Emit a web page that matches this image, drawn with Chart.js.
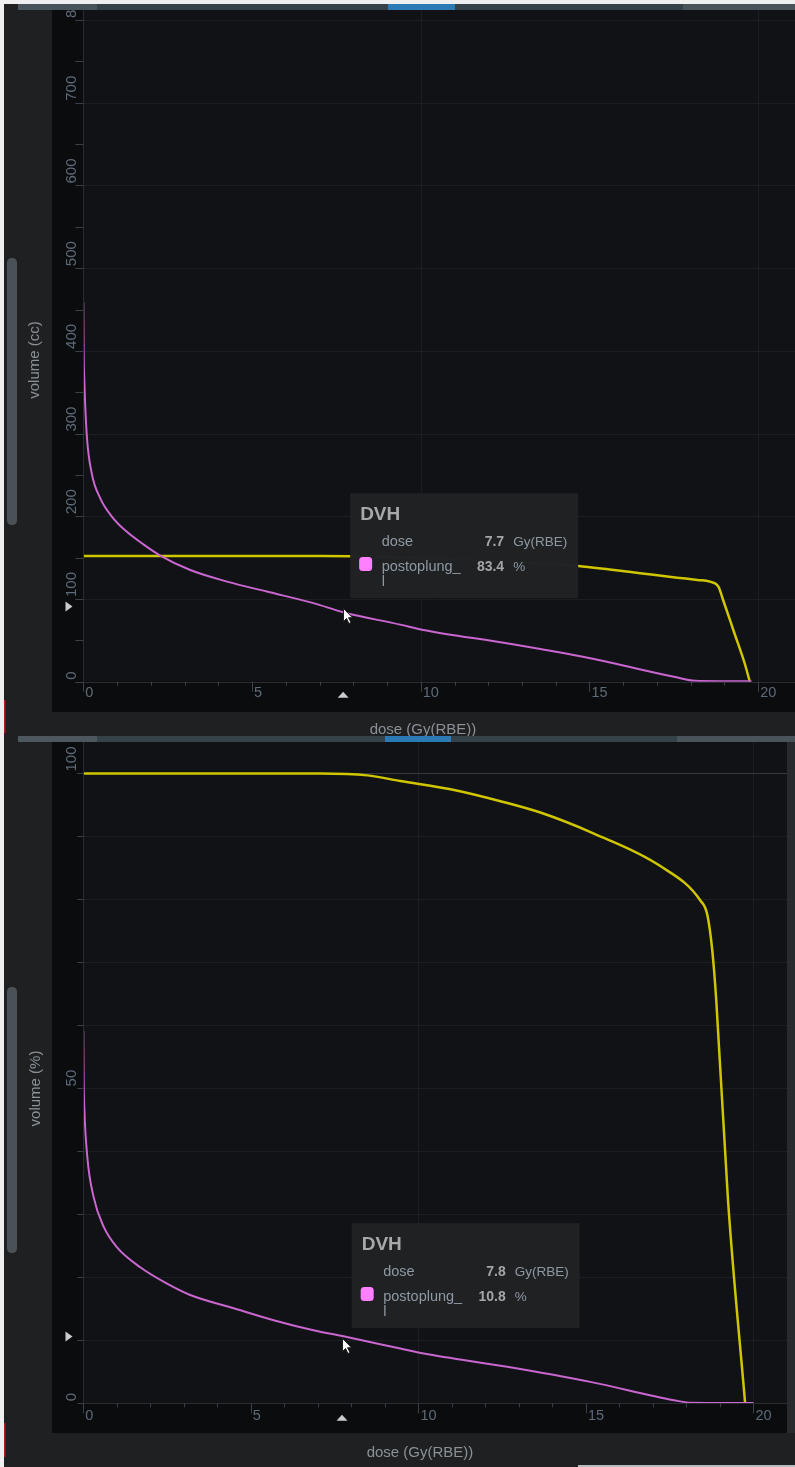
<!DOCTYPE html>
<html><head><meta charset="utf-8">
<script src="https://cdn.jsdelivr.net/npm/chart.js@4.4.0/dist/chart.umd.min.js"></script>
<style>
html,body{margin:0;padding:0;background:#efefef;}
body{width:795px;height:1467px;position:relative;overflow:hidden;}
.wrap{position:absolute;left:0;width:795px;}
#w1{top:0;height:736px;}
#w2{top:736px;height:731px;}
canvas{display:block;}
</style></head><body>
<div class="wrap" id="w1"><canvas id="c1"></canvas></div>
<div class="wrap" id="w2"><canvas id="c2"></canvas></div>
<script>
// ---------- data ----------
// top chart: volume in cc
const ccYellowDose = [0, 2, 4, 6, 7.07, 7.9, 8.5, 9.5, 11, 12.5, 13.6, 14.67, 15.6, 16.5, 17.6, 18.2, 18.57, 18.82, 18.96, 19.3, 19.6, 19.75];
const ccYellowVol  = [152, 152, 152, 152, 152, 151.8, 151.4, 150.2, 148, 145.3, 142.9, 139.9, 135.6, 131.2, 125.8, 123, 121, 114.9, 98.8, 58, 22, 0];
const ccPinkDose = [0, 0.01, 0.03, 0.1, 0.25, 0.5, 0.84, 1.24, 1.78, 2.28, 3.17, 4.26, 5.44, 6.82, 7.7, 9.39, 10.08, 12.55, 15.02, 17.5, 18.13, 19.0, 19.8];
const ccPinkVol  = [459, 400, 365, 300, 252, 222, 200, 183, 166, 152.5, 135, 121, 109, 95, 84, 69, 62.5, 46.4, 28.3, 6.0, 1.0, 0.6, 0.5];
// bottom chart: volume in %
const pctYellowDose = [0, 3, 6, 7.07, 8.48, 9.46, 10.96, 12.45, 13.64, 15.22, 17.22, 18.42, 18.62, 18.77, 18.89, 19.24, 19.75];
const pctYellowVol  = [100, 100, 100, 100, 99.7, 98.8, 97.5, 95.6, 93.8, 90.5, 85.3, 79.8, 77.6, 71.9, 63.9, 32.2, 0];
const pctPinkDose = [0, 0.01, 0.03, 0.12, 0.31, 0.61, 1.0, 1.7, 2.5, 3.19, 4.49, 5.68, 6.87, 7.8, 9.46, 10.16, 12.65, 15.13, 17.62, 18.12, 20.0];
const pctPinkVol  = [59.2, 51.5, 47, 39.1, 32.7, 28.0, 24.8, 21.6, 19.0, 17.2, 15.1, 13.2, 11.6, 10.6, 8.7, 7.9, 5.8, 3.4, 0.5, 0.1, 0.05];

// axis ticks / labels
const xTickValues = [0,1,2,3,4,5,6,7,8,9,10,11,12,13,14,15,16,17,18,19,20];
const xLabelValues = [0, 5, 10, 15, 20];
const xGridValues = [10, 20];
const ccYTickValues = [0,50,100,150,200,250,300,350,400,450,500,550,600,650,700,750,800];
const ccYLabelValues = [0,100,200,300,400,500,600,700,800];
const ccYGridValues = [100,200,300,400,500,600,700,800];
const pctYTickValues = [0,10,20,30,40,50,60,70,80,90,100];
const pctYLabelValues = [0, 50, 100];
const pctYGridValues = [10,20,30,40,50,60,70,80,90];

// tooltip texts
const tipTitle = 'DVH';
const tipDoseLabel = 'dose';
const tipDoseUnit = 'Gy(RBE)';
const tipSeriesName = ['postoplung_', 'l'];
const ccTipDose = '7.7', ccTipValue = '83.4', ccTipUnit = '%';
const pctTipDose = '7.8', pctTipValue = '10.8', pctTipUnit = '%';
const ccHover = {dose: 7.7, cursorDose: 7.7, cursorVol: 89};
const pctHover = {dose: 7.8, cursorDose: 7.72, cursorVol: 10.35};

// ---------- drawing helpers ----------
const FONT = '"Liberation Sans", Arial, Helvetica, sans-serif';
function pts(xs, ys){ return xs.map((x,i)=>({x:x, y:ys[i]})); }
function rr(ctx,x,y,w,h,r){ ctx.beginPath(); ctx.moveTo(x+r,y); ctx.lineTo(x+w-r,y); ctx.quadraticCurveTo(x+w,y,x+w,y+r); ctx.lineTo(x+w,y+h-r); ctx.quadraticCurveTo(x+w,y+h,x+w-r,y+h); ctx.lineTo(x+r,y+h); ctx.quadraticCurveTo(x,y+h,x,y+h-r); ctx.lineTo(x,y+r); ctx.quadraticCurveTo(x,y,x+r,y); ctx.closePath(); }

const panelPlugin = {
  id: 'panel',
  beforeDraw(chart, args, o) {
    const ctx = chart.ctx, W = chart.width, H = chart.height, ca = chart.chartArea;
    ctx.save();
    ctx.fillStyle = '#efefef'; ctx.fillRect(0,0,W,H);
    ctx.fillStyle = '#1e2022'; ctx.fillRect(4, o.panelTop, W-4, H-o.panelTop);
    o.strip.forEach(s => { ctx.fillStyle = s[2]; ctx.fillRect(s[0], o.stripY, s[1]-s[0], o.stripH); });
    ctx.fillStyle = '#0b0c0e'; ctx.fillRect(52, o.blackTop, o.blackRight-52, o.blackBottom-o.blackTop);
    if (o.blackRight < W) { ctx.fillStyle = '#282b2e'; ctx.fillRect(o.blackRight, o.blackTop, W-o.blackRight, o.blackBottom-o.blackTop); }
    ctx.fillStyle = '#111216'; ctx.fillRect(ca.left, ca.top, ca.right-ca.left, ca.bottom-ca.top);
    ctx.fillStyle = '#4a5258'; rr(ctx, 7, o.thumb[0], 10, o.thumb[1]-o.thumb[0], 5); ctx.fill();
    ctx.fillStyle = '#a8201e'; ctx.fillRect(4, o.red[0], 1.5, o.red[1]-o.red[0]);
    if (o.bottomLine) { ctx.fillStyle = '#b8bcbf'; ctx.fillRect(o.bottomLine[0], H-2, W-o.bottomLine[0], 2); }
    ctx.restore();
  },
  beforeDatasetsDraw(chart, args, o) {
    const ctx = chart.ctx, ca = chart.chartArea, xs = chart.scales.x, ys = chart.scales.y;
    ctx.save();
    ctx.beginPath(); ctx.rect(ca.left, ca.top, ca.right-ca.left, ca.bottom-ca.top); ctx.clip();
    ctx.lineWidth = 1; ctx.strokeStyle = '#1d1e23';
    o.yGrid.forEach(v => { const y = Math.round(ys.getPixelForValue(v))+0.5; ctx.beginPath(); ctx.moveTo(ca.left,y); ctx.lineTo(ca.right,y); ctx.stroke(); });
    o.xGrid.forEach(v => { const x = Math.round(xs.getPixelForValue(v))+0.5; ctx.beginPath(); ctx.moveTo(x,ca.top); ctx.lineTo(x,ca.bottom); ctx.stroke(); });
    if (o.refLine !== undefined) { ctx.strokeStyle = '#38393e'; const y = Math.round(ys.getPixelForValue(o.refLine))+0.5; ctx.beginPath(); ctx.moveTo(ca.left,y); ctx.lineTo(ca.right,y); ctx.stroke(); }
    ctx.restore();
  },
  afterDraw(chart, args, o) {
    const ctx = chart.ctx, ca = chart.chartArea, xs = chart.scales.x, ys = chart.scales.y;
    ctx.save();
    // axis lines
    ctx.lineWidth = 1; ctx.strokeStyle = '#2a2c31';
    ctx.beginPath(); ctx.moveTo(Math.round(ca.left)+0.5, ca.top); ctx.lineTo(Math.round(ca.left)+0.5, ca.bottom); ctx.stroke();
    ctx.beginPath(); ctx.moveTo(ca.left, Math.round(ca.bottom)+0.5); ctx.lineTo(ca.right, Math.round(ca.bottom)+0.5); ctx.stroke();
    // tick marks
    ctx.strokeStyle = '#3b4047';
    o.yTicks.forEach(v => { const y = Math.round(ys.getPixelForValue(v))+0.5; if (y < o.blackTop) return; ctx.beginPath(); ctx.moveTo(ca.left-o.yTickLen, y); ctx.lineTo(ca.left, y); ctx.stroke(); });
    o.xTicks.forEach(v => { const x = Math.round(xs.getPixelForValue(v))+0.5; const major = o.xLabels.includes(v); ctx.beginPath(); ctx.moveTo(x, ca.bottom); ctx.lineTo(x, ca.bottom + (major ? 10 : 4)); ctx.stroke(); });
    // tick labels
    ctx.save();
    ctx.beginPath(); ctx.rect(52, o.blackTop, chart.width-52, o.blackBottom-o.blackTop); ctx.clip();
    ctx.fillStyle = '#5d6b79'; ctx.font = '15px ' + FONT;
    o.yLabels.forEach(v => { const y = ys.getPixelForValue(v); ctx.save(); ctx.translate(72, y); ctx.rotate(-Math.PI/2); ctx.textAlign='left'; ctx.textBaseline='middle'; ctx.fillText(String(v), 2, 0); ctx.restore(); });
    ctx.font = '14.5px ' + FONT;
    o.xLabels.forEach(v => { const x = xs.getPixelForValue(v); ctx.textAlign='left'; ctx.textBaseline='middle'; ctx.fillText(String(v), x+2, ca.bottom+o.xLabelOff); });
    ctx.restore();
    // axis titles
    ctx.fillStyle = '#8b9197'; ctx.font = '15px ' + FONT; ctx.textAlign='center'; ctx.textBaseline='middle';
    ctx.fillText(o.xTitle, o.xTitlePos[0], o.xTitlePos[1]);
    ctx.save(); ctx.translate(o.yTitlePos[0], o.yTitlePos[1]); ctx.rotate(-Math.PI/2); ctx.fillText(o.yTitle, 0, 0); ctx.restore();
    // hover markers
    const cx = xs.getPixelForValue(o.hover.cursorDose), cy = ys.getPixelForValue(o.hover.cursorVol);
    ctx.fillStyle = '#c9cccf';
    ctx.beginPath(); ctx.moveTo(65.5, cy-6.5); ctx.lineTo(72.5, cy-1.5); ctx.lineTo(65.5, cy+3.5); ctx.closePath(); ctx.fill();
    const ty = ca.bottom + o.triOff;
    ctx.beginPath(); ctx.moveTo(cx-5.5, ty+3); ctx.lineTo(cx+5.5, ty+3); ctx.lineTo(cx, ty-3); ctx.closePath(); ctx.fill();
    // tooltip
    const L = xs.getPixelForValue(o.hover.dose) + 7, T = cy - 115;
    ctx.fillStyle = 'rgba(31,33,35,0.99)'; ctx.fillRect(L, T, 228, 105);
    ctx.textAlign='left'; ctx.textBaseline='alphabetic';
    ctx.fillStyle = '#a6a8aa'; ctx.font = 'bold 19px ' + FONT; ctx.fillText(tipTitle, L+10, T+26.5);
    ctx.font = '14.5px ' + FONT; ctx.fillStyle = '#8f99a3';
    ctx.fillText(tipDoseLabel, L+31.5, T+53);
    ctx.fillText(tipSeriesName[0], L+31.5, T+78);
    ctx.fillText(tipSeriesName[1], L+31.5, T+93);
    ctx.font = '13.5px ' + FONT;
    ctx.fillText(o.tip.unit1, L+163, T+53);
    ctx.fillText(o.tip.unit2, L+163, T+78);
    ctx.font = 'bold 14px ' + FONT; ctx.fillStyle = '#a3a6a9'; ctx.textAlign='right';
    ctx.fillText(o.tip.v1, L+154, T+53);
    ctx.fillText(o.tip.v2, L+154, T+78);
    ctx.fillStyle = '#ff80ff'; rr(ctx, L+9, T+64, 13, 14, 3.5); ctx.fill();
    // mouse cursor
    ctx.translate(Math.round(cx)+0.5, Math.round(cy)+0.5);
    ctx.beginPath(); ctx.moveTo(0,0); ctx.lineTo(0,13); ctx.lineTo(3,10); ctx.lineTo(5.5,15); ctx.lineTo(7.5,14); ctx.lineTo(5,9.2); ctx.lineTo(9,9.2); ctx.closePath();
    ctx.fillStyle = '#ffffff'; ctx.fill(); ctx.strokeStyle = '#202020'; ctx.lineWidth = 1; ctx.stroke();
    ctx.restore();
  }
};

function makeChart(id, pinkD, pinkV, yelD, yelV, xMax, yMax, padding, yW, xH, panel) {
  return new Chart(document.getElementById(id), {
    type: 'line',
    data: { datasets: [
      { label: 'postoplung_l', data: pts(pinkD, pinkV), borderColor: '#c966cf', borderWidth: 2, pointRadius: 0, cubicInterpolationMode: 'monotone', fill: false },
      { label: 'target', data: pts(yelD, yelV), borderColor: '#d0c600', borderWidth: 2.5, pointRadius: 0, cubicInterpolationMode: 'monotone', fill: false }
    ]},
    options: {
      responsive: true, maintainAspectRatio: false, animation: false,
      layout: { padding: padding },
      events: [],
      plugins: { legend: {display:false}, tooltip: {enabled:false}, title: {display:false}, panel: panel },
      scales: {
        x: { type: 'linear', min: 0, max: xMax, grid: {display:false}, border: {display:false}, ticks: {display:false}, afterFit: s => { s.height = xH; } },
        y: { type: 'linear', min: 0, max: yMax, grid: {display:false}, border: {display:false}, ticks: {display:false}, afterFit: s => { s.width = yW; } }
      }
    },
    plugins: [panelPlugin]
  });
}

makeChart('c1', ccPinkDose, ccPinkVol, ccYellowDose, ccYellowVol, 21.09, 812.2,
  {top: 10, left: 0, right: 0, bottom: 0}, 83.3, 54.3,
  { panelTop: 4, stripY: 4, stripH: 6,
    strip: [[18,97,'#48545c'],[97,388,'#36424a'],[388,455,'#2b7ab5'],[455,683,'#36424a'],[683,795,'#48535a']],
    blackTop: 10, blackBottom: 712, blackRight: 795, thumb: [258, 525], red: [700, 733],
    yGrid: ccYGridValues, xGrid: xGridValues, yTicks: ccYTickValues, yLabels: ccYLabelValues, yTickLen: 8,
    xTicks: xTickValues, xLabels: xLabelValues, xLabelOff: 11.5, triOff: 13,
    xTitle: 'dose (Gy(RBE))', xTitlePos: [423, 729.5], yTitle: 'volume (cc)', yTitlePos: [35, 360],
    hover: ccHover, tip: {v1: ccTipDose, unit1: tipDoseUnit, v2: ccTipValue, unit2: ccTipUnit} });

makeChart('c2', pctPinkDose, pctPinkVol, pctYellowDose, pctYellowVol, 21.0, 105.0,
  {top: 6, left: 0, right: 8, bottom: 0}, 83.3, 63.7,
  { panelTop: 0, stripY: 0, stripH: 6,
    strip: [[18,97,'#4c575e'],[97,385,'#36424a'],[385,451,'#2b7ab5'],[451,677,'#36424a'],[677,795,'#48535a']],
    blackTop: 6, blackBottom: 697, blackRight: 787, thumb: [251, 517], red: [687, 721], bottomLine: [578],
    yGrid: pctYGridValues, xGrid: xGridValues, refLine: 100, yTicks: pctYTickValues, yLabels: pctYLabelValues, yTickLen: 6,
    xTicks: xTickValues, xLabels: xLabelValues, xLabelOff: 13, triOff: 14.5,
    xTitle: 'dose (Gy(RBE))', xTitlePos: [420, 716.5], yTitle: 'volume (%)', yTitlePos: [36, 352.5],
    hover: pctHover, tip: {v1: pctTipDose, unit1: tipDoseUnit, v2: pctTipValue, unit2: pctTipUnit} });
</script>
</body></html>
